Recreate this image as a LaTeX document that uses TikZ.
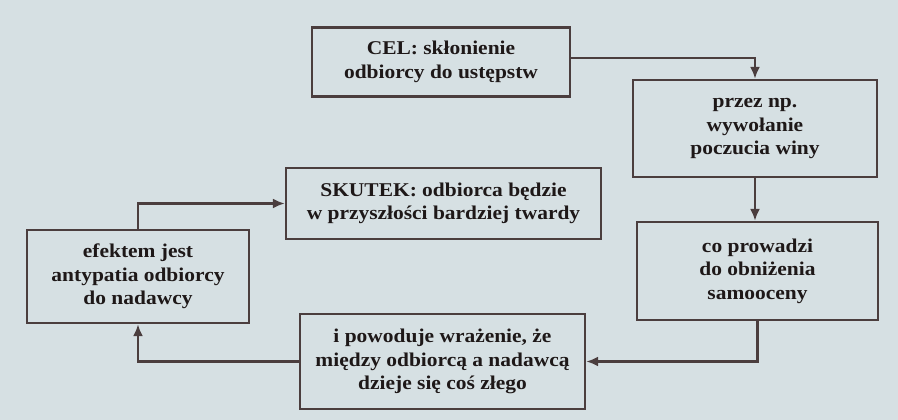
\documentclass[tikz,border=0pt]{standalone}
\usepackage{fontspec}
\setmainfont[FakeStretch=1.1]{Liberation Serif}
\usetikzlibrary{arrows.meta}
\definecolor{paper}{RGB}{214,224,227}
\definecolor{ink}{RGB}{30,24,24}
\definecolor{frame}{RGB}{75,62,62}
\tikzset{
  box/.style={draw=frame, line width=2.4pt, fill=none, align=center, inner sep=0pt,
    text=ink, font=\bfseries\fontsize{19.5}{23.5}\selectfont},
  conn/.style={draw=frame, line width=2.2pt, -{Latex[length=12pt,width=10pt]}}
}
\begin{document}
\begin{tikzpicture}[x=1pt,y=-1pt]
\fill[paper] (0,0) rectangle (898,420);
\useasboundingbox (0,0) rectangle (898,420);
\node[box, minimum width=258pt, minimum height=69pt] (cel) at (441,62) {CEL: skłonienie\\odbiorcy do ustępstw};
\node[box, minimum width=244pt, minimum height=97pt] (wina) at (755,128.5) {przez np.\\wywołanie\\poczucia winy};
\node[box, minimum width=241pt, minimum height=98pt] (samo) at (757.5,271) {co prowadzi\\do obniżenia\\samooceny};
\node[box, minimum width=315pt, minimum height=71pt] (skutek) at (443.5,203.5) {SKUTEK: odbiorca będzie\\w przyszłości bardziej twardy};
\node[box, minimum width=222pt, minimum height=93pt] (efekt) at (138,276.5) {efektem jest\\antypatia odbiorcy\\do nadawcy};
\node[box, minimum width=285pt, minimum height=95pt] (wraz) at (442.5,361.5) {i powoduje wrażenie, że\\między odbiorcą a nadawcą\\dzieje się coś złego};
\coordinate (celout) at ([yshift=4pt]cel.east);
\draw[conn] (celout) -| (wina.north);
\draw[conn] (wina.south) -- (wina.south |- samo.north);
\draw[conn] (samo.south) |- (wraz.east);
\draw[conn] (wraz.west) -| (efekt.south);
\draw[conn] (efekt.north) |- (skutek.west);
\end{tikzpicture}
\end{document}
